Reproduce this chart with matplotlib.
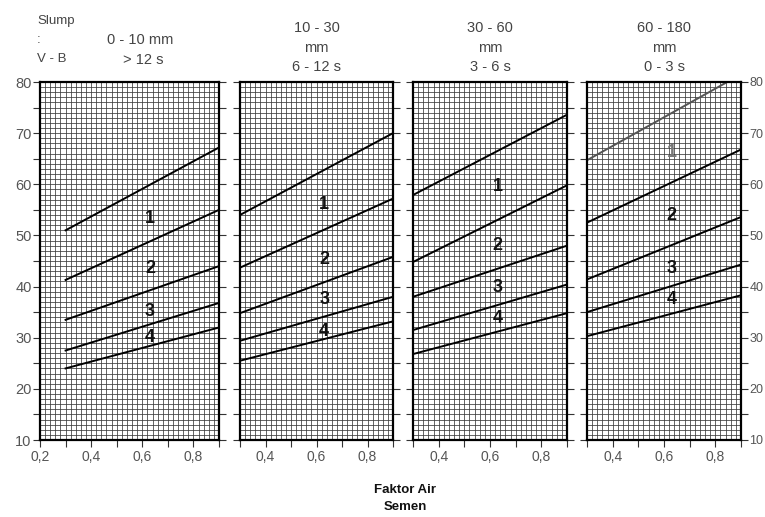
import matplotlib.pyplot as plt
import numpy as np

plt.rcParams['font.family'] = ['Liberation Sans', 'DejaVu Sans']

# four slump classes, each with five lines (start at w/c 0.3, end at 0.9)
titles = [['0 - 10 mm', '> 12 s'], ['10 - 30', 'mm', '6 - 12 s'],
          ['30 - 60', 'mm', '3 - 6 s'], ['60 - 180', 'mm', '0 - 3 s']]
x_ends = [0.3, 0.9]
lines_p1 = [[51.0, 67.2], [41.3, 55.0], [33.5, 44.0], [27.5, 36.8], [24.0, 32.0]]
lines_p2 = [[54.0, 70.0], [43.7, 57.2], [34.8, 45.8], [29.4, 38.0], [25.5, 33.2]]
lines_p3 = [[57.9, 73.6], [44.8, 59.8], [38.0, 48.0], [31.5, 40.4], [26.8, 34.8]]
lines_p4 = [[64.7, 81.5], [52.5, 66.8], [41.4, 53.6], [35.0, 44.3], [30.3, 38.3]]
all_lines = [lines_p1, lines_p2, lines_p3, lines_p4]

# zone numbers and their heights
zone_names = ['1', '2', '3', '4']
zone_x = 0.63
zones_y = [[53.4, 43.6, 35.2, 30.0],
           [56.0, 45.2, 37.5, 31.3],
           [59.6, 48.0, 39.8, 33.8],
           [66.3, 53.8, 43.6, 37.5]]

xlims = [(0.2, 0.9), (0.3, 0.9), (0.3, 0.9), (0.3, 0.9)]
lefts = [40, 240, 413, 587]
rights = [219, 393, 567, 741]
W, H = 765, 517

fig = plt.figure(figsize=(7.65, 5.17), dpi=100)

for i in range(4):
    ax = fig.add_axes([lefts[i] / W, 1 - 440 / H, (rights[i] - lefts[i]) / W, (440 - 82) / H])
    x0, x1 = xlims[i]
    ax.set_xlim(x0, x1)
    ax.set_ylim(10, 80)
    # fine grid
    for gx in np.arange(x0, x1 + 1e-6, 0.02):
        ax.axvline(gx, color='#3a3a3a', lw=0.55, zorder=1)
    for gy in range(10, 81):
        ax.axhline(gy, color='#3a3a3a', lw=0.55, zorder=1)
    for k, ln in enumerate(all_lines[i]):
        c = '#555555' if (i == 3 and k == 0) else 'black'
        ax.plot(x_ends, ln, color=c, lw=1.4, zorder=3, clip_on=True)
    for k, name in enumerate(zone_names):
        c = '#777777' if (i == 3 and k == 0) else '#111111'
        ax.text(zone_x, zones_y[i][k], name, ha='center', va='center', fontsize=13,
                fontweight='bold', color=c, zorder=4)
    ax.set_xticks(np.arange(x0, x1 + 1e-6, 0.1))
    ax.set_xticklabels(['' if round(v * 10) % 2 else ('%.1f' % v).replace('.', ',')
                        for v in np.arange(x0, x1 + 1e-6, 0.1)])
    ax.set_yticks(range(10, 81, 5))
    ax.tick_params(axis='both', direction='out', length=5, width=0.8, colors='#333333',
                   labelcolor='#555555', labelsize=10, pad=2)
    ax.tick_params(axis='y', left=True, right=True, labelleft=(i == 0), labelright=(i == 3),
                   pad=1, labelsize=(10.5 if i == 0 else 9))
    ylabels = [str(v) if v % 10 == 0 else '' for v in range(10, 81, 5)]
    ax.set_yticklabels(ylabels)
    for s in ax.spines.values():
        s.set_linewidth(1.6)
        s.set_zorder(5)
    if i == 0:
        for j, t in enumerate(['Slump', ':', 'V - B']):
            fig.text(37 / W, 1 - (21 + 19 * j) / H, t, ha='left', va='center',
                     fontsize=9.5, color='#444444')
        fig.text(140 / W, 1 - 40 / H, titles[0][0], ha='center', va='center',
                 fontsize=10.5, color='#444444')
        fig.text(143 / W, 1 - 60 / H, titles[0][1], ha='center', va='center',
                 fontsize=10.5, color='#444444')
    else:
        for j, t in enumerate(titles[i]):
            fig.text((lefts[i] + rights[i]) / 2 / W, 1 - (28 + 19.5 * j) / H, t,
                     ha='center', va='center', fontsize=10.5, color='#444444')

fig.text(405 / W, 1 - 490 / H, 'Faktor Air', ha='center', va='center',
         fontsize=9.5, fontweight='bold', color='#111111')
fig.text(405 / W, 1 - 507 / H, 'Semen', ha='center', va='center',
         fontsize=9.5, fontweight='bold', color='#111111')

fig.savefig('out.png', dpi=100)
